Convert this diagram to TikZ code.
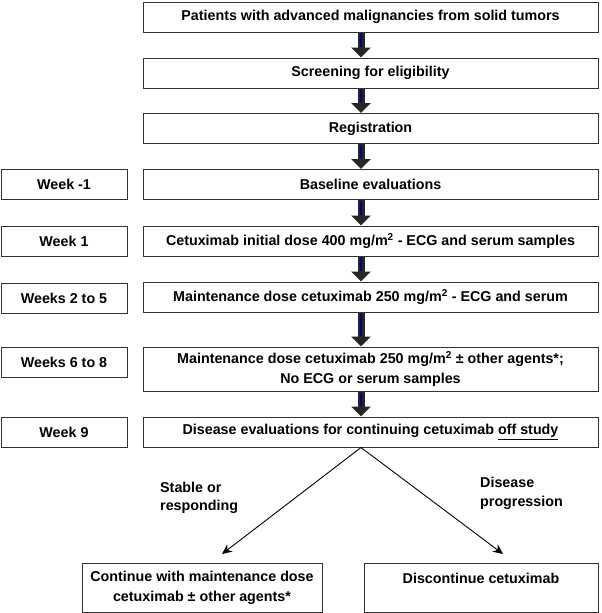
\documentclass[tikz,border=0pt]{standalone}
\usepackage{fontspec}
\setmainfont{Liberation Sans}
\usetikzlibrary{arrows.meta}
\tikzstyle{flowchart}=[
    x=1pt, y=-1pt,
    every node/.style={font=\fontsize{14.3}{20}\selectfont\bfseries},
]
\tikzstyle{stepbox}=[
    draw=black!80, line width=1pt,
    inner sep=0pt, align=center,
    minimum width=455pt, minimum height=30pt,
]
\tikzstyle{weekbox}=[stepbox, minimum width=126pt]
\tikzstyle{endbox}=[stepbox, minimum height=49pt]
\tikzstyle{thickarrow}=[line width=7pt, draw=black!85, -{Triangle[length=10pt,width=19pt]}]
\tikzstyle{shaftline}=[line width=1.6pt, draw=blue!55!black, shorten <=1pt, shorten >=11pt]
\tikzstyle{thinarrow}=[line width=0.9pt, -{Stealth[length=10pt,width=9pt]}]

\begin{document}
\begin{tikzpicture}[flowchart]
    \useasboundingbox (0,0) rectangle (602,613);
    \coordinate (spine) at (361,0);
    % main column
    \node[stepbox] (patients) at (370.5,17) {Patients with advanced malignancies from solid tumors};
    \node[stepbox] (screening) at (370.5,73) {Screening for eligibility};
    \node[stepbox] (registration) at (370.5,128.5) {Registration};
    \node[stepbox] (baseline) at (370.5,184.5) {Baseline evaluations};
    \node[stepbox] (initial) at (370.5,241) {Cetuximab initial dose 400 mg/m\textsuperscript{2} - ECG and serum samples};
    \node[stepbox] (maint) at (370.5,297) {Maintenance dose cetuximab 250 mg/m\textsuperscript{2} - ECG and serum};
    \node[stepbox, minimum height=44pt] (agents) at (370.5,369) {Maintenance dose cetuximab 250 mg/m\textsuperscript{2} ± other agents*;\\No ECG or serum samples};
    \node[stepbox] (evaluation) at (370.5,432) {Disease evaluations for continuing cetuximab \underline{off study}};
    % week labels
    \node[weekbox] (wkminus) at (64,184.5) {Week -1};
    \node[weekbox] (wkone) at (64,241.5) {Week 1};
    \node[weekbox] (wktwo) at (64,298) {Weeks 2 to 5};
    \node[weekbox] (wksix) at (64,362.5) {Weeks 6 to 8};
    \node[weekbox] (wknine) at (64,432) {Week 9};
    % outcomes
    \node[endbox, minimum width=240pt] (continue) at (202,587.5) {Continue with maintenance dose\\cetuximab ± other agents*};
    \node[endbox, minimum width=234pt] (stop) at (481,587.5) {};
    \node[inner sep=0pt] (stoptext) at (481,578) {Discontinue cetuximab};
    % block arrows
    \foreach \a/\b in {patients/screening, screening/registration, registration/baseline,
                       baseline/initial, initial/maint, maint/agents, agents/evaluation} {
        \draw[thickarrow] (spine |- \a.south) -- (spine |- \b.north);
        \draw[shaftline] (spine |- \a.south) -- (spine |- \b.north);
    }
    % branches
    \coordinate (leftend) at (222,554);
    \coordinate (rightend) at (503,554);
    \draw[thinarrow] (spine |- evaluation.south) -- (leftend);
    \draw[thinarrow] (spine |- evaluation.south) -- (rightend);
    \node[anchor=north west, align=left, inner sep=0pt] (stable) at (160,482) {Stable or\\[-2pt]responding};
    \node[anchor=north west, align=left, inner sep=0pt] (progress) at (480,477) {Disease\\[-1pt]progression};
\end{tikzpicture}
\end{document}
